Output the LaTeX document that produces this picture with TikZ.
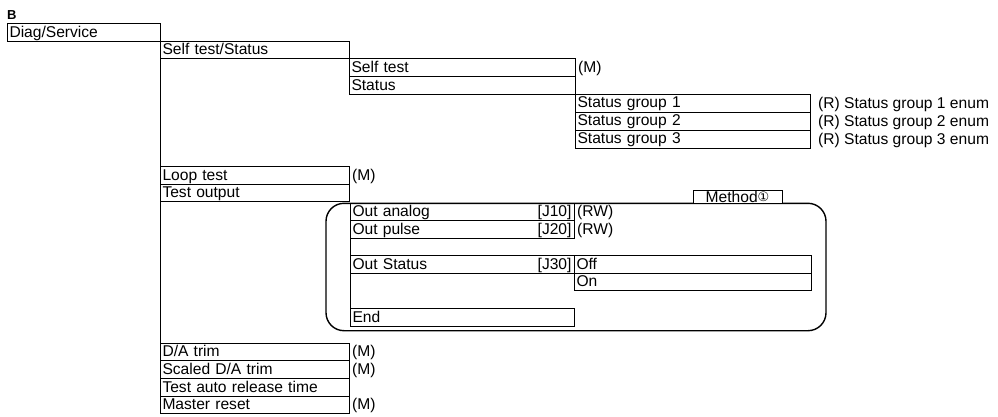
\documentclass[tikz,border=0pt]{standalone}
\usepackage{fontspec}
\setmainfont{Liberation Sans}
\newfontfamily\dvs{DejaVu Sans}
\begin{document}
\begin{tikzpicture}[x=1pt,y=-1pt,
  txtfont/.style={font=\fontsize{15.6}{18}\selectfont},
  bx/.style={draw, line width=0.9pt, rectangle, anchor=north west, inner xsep=2.5pt, inner ysep=0.5pt,
    outer sep=0pt, text height=13.1pt, text depth=3.5pt, align=left, text width=#1, txtfont},
  tall/.style={inner ysep=0.7pt},
  side/.style={anchor=base west, inner sep=0pt, txtfont},
  frame/.style={draw, line width=1.4pt, rounded corners=18pt, rectangle, anchor=north west, inner sep=0pt, outer sep=0pt},
  lab/.style={draw, fill=white, line width=0.9pt, rectangle, anchor=south west, inner sep=0pt, outer sep=0pt,
    text height=12.5pt, text depth=0.8pt, minimum width=89pt, minimum height=13.3pt, txtfont}]
\useasboundingbox (0,0) rectangle (998,417);

\node[anchor=base west, inner sep=0pt, font=\bfseries\fontsize{13}{15}\selectfont] (lblB) at (7,19.3) {B};

% method frame
\node[frame, minimum width=500pt, minimum height=127.4pt] (meth) at (326,203.3) {};

% level 0
\node[bx=148pt] (ds) at (7,23.7) {Diag/Service};
% level 1
\node[bx=184pt] (sts) at (160,41.3) {Self test/Status};
\node[bx=221pt] (st) at (349,58.9) {Self test};
\node[bx=221pt] (stat) at (349,76.5) {Status};
\node[bx=230pt, tall] (sg1) at (575,94.1) {Status group 1};
\node[bx=230pt, tall] (sg2) at (sg1.south west) {Status group 2};
\node[bx=230pt, tall] (sg3) at (sg2.south west) {Status group 3};

\node[bx=184pt] (loop) at (160,166.7) {Loop test};
\node[bx=184pt] (to) at (loop.south west) {Test output};

\node[bx=219pt] (oa) at (350,203.3) {Out analog\hfill[J10]\hspace{1pt}};
\node[bx=219pt] (op) at (oa.south west) {Out pulse\hfill[J20]\hspace{1pt}};
\node[bx=219pt] (os) at (350,255.7) {Out Status\hfill[J30]\hspace{1pt}};
\node[bx=232pt] (off) at (574,255.7) {Off};
\node[bx=232pt] (on) at (off.south west) {On};
\node[bx=219pt] (end) at (350,308.9) {End};

\node[bx=184pt] (da) at (160,343.3) {D/A trim};
\node[bx=184pt] (sda) at (da.south west) {Scaled D/A trim};
\node[bx=184pt] (tar) at (sda.south west) {Test auto release time};
\node[bx=184pt] (mr) at (tar.south west) {Master reset};

% connectors
\draw[line width=0.9pt] (sts.south west) -- (mr.south west);
\draw[line width=0.9pt] (op.south west) -- (end.north west);

% label on frame
\node[lab] (mlab) at (693,203.3) {Method\raisebox{1.5pt}{\dvs\fontsize{13}{13}\selectfont ①}};

% side texts
\node[side] (stm) at (578,72.5) {(M)};
\node[side] (sg1t) at (818,108.1) {(R) Status group 1 enum};
\node[side] (sg2t) at (818,126.1) {(R) Status group 2 enum};
\node[side] (sg3t) at (818,144.1) {(R) Status group 3 enum};
\node[side] (loopm) at (352,180.3) {(M)};
\node[side] (oarw) at (577,216.9) {(RW)};
\node[side] (oprw) at (577,234.5) {(RW)};
\node[side] (dam) at (352,356.9) {(M)};
\node[side] (sdam) at (352,374.5) {(M)};
\node[side] (mrm) at (352,409.7) {(M)};
\end{tikzpicture}
\end{document}
